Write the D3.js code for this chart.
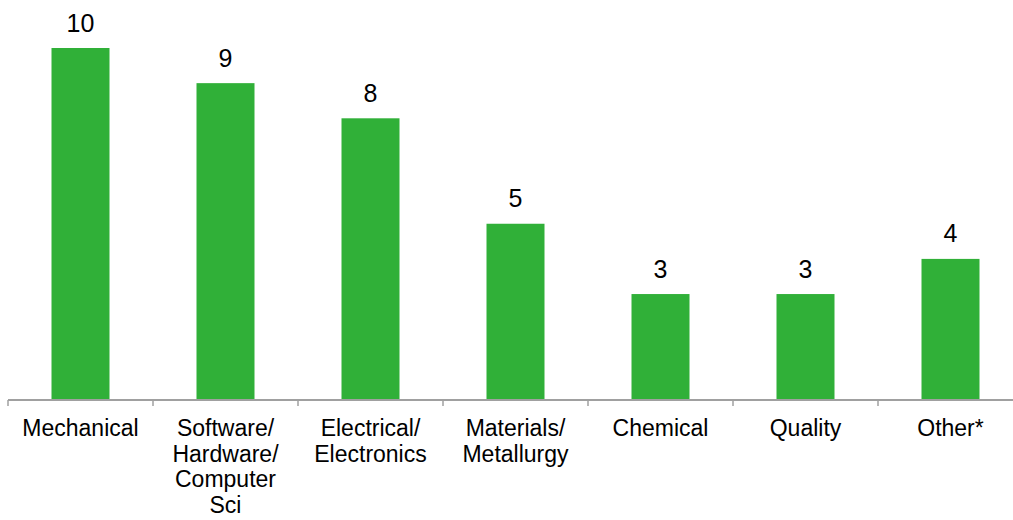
<!DOCTYPE html>
<html>
<head>
<meta charset="utf-8">
<script src="https://cdn.jsdelivr.net/npm/d3@7"></script>
<style>
  html, body { margin: 0; padding: 0; background: #fff; }
  svg { display: block; }
  text { font-family: "Liberation Sans", Arial, sans-serif; fill: #000; }
</style>
</head>
<body>
<svg id="chart" width="1013" height="520"></svg>
<script>
const categories = ["Mechanical", "Software/Hardware/Computer Sci", "Electrical/Electronics", "Materials/Metallurgy", "Chemical", "Quality", "Other*"];
const categoryLines = [["Mechanical"], ["Software/", "Hardware/", "Computer", "Sci"], ["Electrical/", "Electronics"], ["Materials/", "Metallurgy"], ["Chemical"], ["Quality"], ["Other*"]];
const values = [10, 9, 8, 5, 3, 3, 4];

const svg = d3.select("#chart");
const x0 = 8, step = 145;
const x = d3.scaleBand().domain(categories).range([x0, x0 + step * categories.length]).paddingInner(0.6).paddingOuter(0.3);
const y = d3.scaleLinear().domain([0, 10]).range([399.5, 48]);

// bars
svg.selectAll("rect.bar").data(values).enter().append("rect")
  .attr("class", "bar")
  .attr("x", (d, i) => x(categories[i]))
  .attr("width", x.bandwidth())
  .attr("y", d => y(d))
  .attr("height", d => y(0) - y(d))
  .attr("fill", "#30b038");

// value labels
svg.selectAll("text.val").data(values).enter().append("text")
  .attr("class", "val")
  .attr("x", (d, i) => x(categories[i]) + x.bandwidth() / 2)
  .attr("y", d => y(d) - 16.5)
  .attr("text-anchor", "middle")
  .attr("font-size", 25)
  .text(d => d);

// axis
const axisY = 400;
svg.append("line").attr("x1", x0).attr("x2", 1013).attr("y1", axisY).attr("y2", axisY)
  .attr("stroke", "#a0a0a0").attr("stroke-width", 2);
const boundaries = d3.range(categories.length + 1).map(i => x0 + i * x.step());
svg.selectAll("line.tick").data(boundaries).enter().append("line")
  .attr("x1", d => d).attr("x2", d => d)
  .attr("y1", axisY).attr("y2", axisY + 6)
  .attr("stroke", "#a0a0a0").attr("stroke-width", 1.5);

// category labels
const lab = svg.selectAll("text.cat").data(categories).enter().append("text")
  .attr("class", "cat")
  .attr("text-anchor", "middle")
  .attr("font-size", 23)
  .attr("x", d => x(d) + x.bandwidth() / 2)
  .attr("y", 436);
lab.each(function(d, i) {
  const t = d3.select(this);
  categoryLines[i].forEach((ln, j) => {
    t.append("tspan").attr("x", x(d) + x.bandwidth() / 2).attr("dy", j === 0 ? 0 : 25.7).text(ln);
  });
});
</script>
</body>
</html>
